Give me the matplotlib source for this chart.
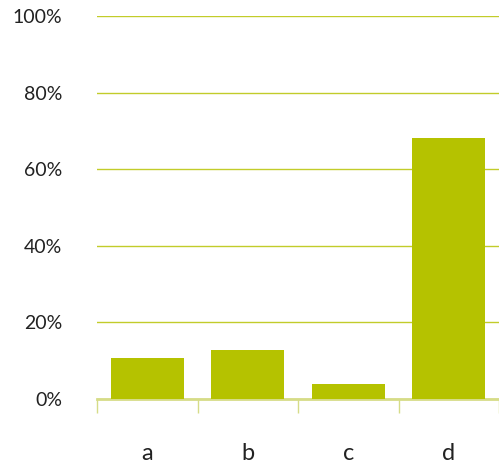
import matplotlib
matplotlib.use("Agg")
import matplotlib.pyplot as plt
from matplotlib.ticker import FuncFormatter

categories = ["a", "b", "c", "d"]
values = [10.6, 12.7, 3.9, 68.1]
yticks = [0, 20, 40, 60, 80, 100]

bar_color = "#b5c200"
grid_color = "#c2cc2a"
axis_color = "#d6dc88"

plt.rcParams['font.family'] = ['Lato', 'DejaVu Sans']

fig = plt.figure(figsize=(4.99, 4.68), dpi=100)
ax = fig.add_axes([97/499, 69/468, 402/499, 383/468])

x = list(range(len(categories)))
ax.bar(x, values, width=0.73, color=bar_color, zorder=3)
ax.set_xlim(-0.5, len(categories) - 0.5)
ax.set_ylim(0, 100)
ax.set_yticks(yticks)
ax.yaxis.set_major_formatter(FuncFormatter(lambda v, p: f"{int(v)}%"))
ax.set_xticks(x)
ax.set_xticklabels(categories)
ax.set_xticks([i - 0.5 for i in range(len(categories) + 1)], minor=True)

for s in ["top", "right", "left"]:
    ax.spines[s].set_visible(False)
ax.spines["bottom"].set_color(axis_color)
ax.spines["bottom"].set_linewidth(2)

ax.grid(axis="y", color=grid_color, linewidth=1, zorder=0)
ax.tick_params(axis="y", length=0, pad=25, labelsize=14, labelcolor="#222222")
ax.tick_params(axis="x", which="major", length=0, pad=32, labelsize=17, labelcolor="#222222")
ax.tick_params(axis="x", which="minor", length=10, width=1, color=axis_color)

fig.savefig("out.png", dpi=100)
